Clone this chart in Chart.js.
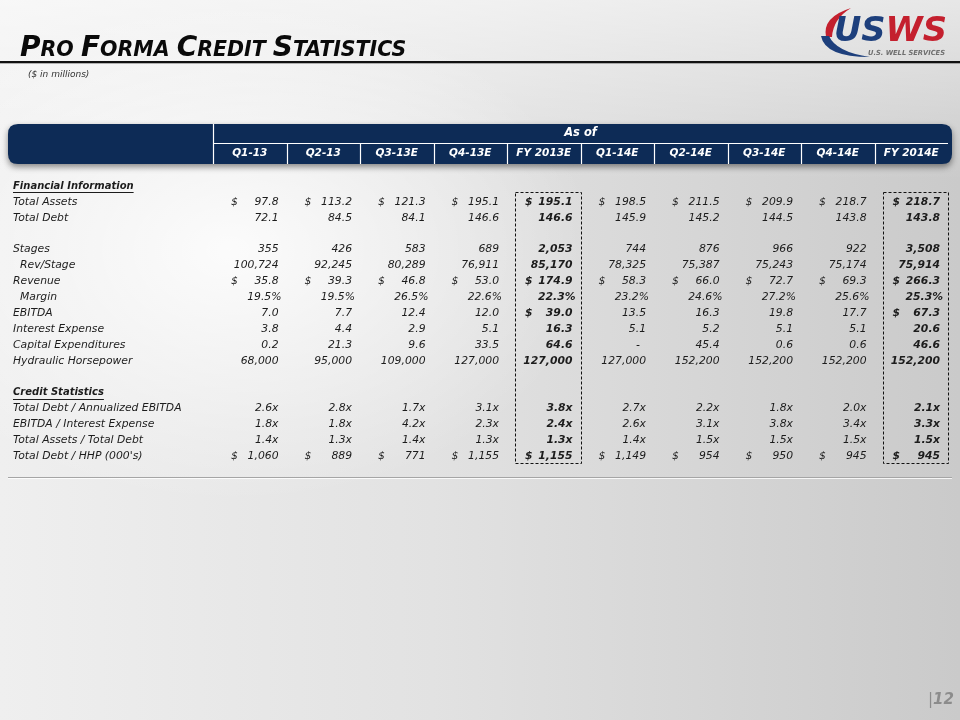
<!DOCTYPE html>
<html>
<head>
<meta charset="utf-8">
<script src="https://cdn.jsdelivr.net/npm/chart.js@4.4.1/dist/chart.umd.min.js"></script>
<style>
html,body{margin:0;padding:0;}
body{width:960px;height:720px;overflow:hidden;position:relative;
 background:
  radial-gradient(ellipse 520px 360px at 230px 250px, rgba(255,255,255,0.85), rgba(255,255,255,0) 70%),
  linear-gradient(180deg, rgba(255,255,255,0.55) 0%, rgba(255,255,255,0) 25%),
  linear-gradient(90deg, #efefef 0%, #e2e2e2 45%, #cacaca 100%);}
#c{position:absolute;left:0;top:0;}
#deco{position:absolute;left:0;top:0;}
</style>
</head>
<body>
<canvas id="c" width="960" height="720"></canvas>
<svg id="deco" width="960" height="720" xmlns="http://www.w3.org/2000/svg">
 <text x="20" y="56" font-family="DejaVu Sans" font-weight="bold" font-style="italic" fill="#0a0a0a"><tspan font-size="28">P</tspan><tspan font-size="20.5">RO </tspan><tspan font-size="28">F</tspan><tspan font-size="20.5">ORMA </tspan><tspan font-size="28">C</tspan><tspan font-size="20.5">REDIT </tspan><tspan font-size="28">S</tspan><tspan font-size="20.5">TATISTICS</tspan></text>
 <rect x="0" y="61" width="960" height="2.3" fill="#111"/>
 <text x="28" y="77" font-family="DejaVu Sans" font-style="italic" font-size="9" fill="#333">($ in millions)</text>
 <path d="M826 37 Q822 17 851 8 Q833 19 832 37 Z" fill="#c4202e"/>
 <path d="M821 36 Q825 57 870 57 Q836 52 829 36 Z" fill="#1d3f7c"/>
 <text x="834" y="41" font-family="DejaVu Sans" font-weight="bold" font-style="italic" font-size="34" textLength="113" lengthAdjust="spacingAndGlyphs"><tspan fill="#1d3f7c">US</tspan><tspan fill="#c4202e">WS</tspan></text>
 <text x="868" y="55" font-family="DejaVu Sans" font-weight="bold" font-style="italic" font-size="7" fill="#6f6f6f" textLength="77" lengthAdjust="spacingAndGlyphs">U.S. WELL SERVICES</text>
 <text x="928" y="704" font-family="DejaVu Sans" font-style="italic" font-size="15" fill="#8c8c8c"><tspan font-weight="normal">|</tspan><tspan font-weight="bold">12</tspan></text>
</svg>
<script>
// ---- data ----
const categories = ['Q1-13','Q2-13','Q3-13E','Q4-13E','FY 2013E','Q1-14E','Q2-14E','Q3-14E','Q4-14E','FY 2014E'];
const fyColumns = ['FY 2013E','FY 2014E'];
const headerTitle = 'As of';
const rowLabels = ['Financial Information','Total Assets','Total Debt','','Stages','Rev/Stage','Revenue','Margin','EBITDA','Interest Expense','Capital Expenditures','Hydraulic Horsepower',' ','Credit Statistics','Total Debt / Annualized EBITDA','EBITDA / Interest Expense','Total Assets / Total Debt',"Total Debt / HHP (000's)"];
const sectionLabels = ['Financial Information','Credit Statistics'];
const indentedLabels = ['Rev/Stage','Margin'];

const totalAssets      = [97.8, 113.2, 121.3, 195.1, 195.1, 198.5, 211.5, 209.9, 218.7, 218.7];
const totalDebt        = [72.1, 84.5, 84.1, 146.6, 146.6, 145.9, 145.2, 144.5, 143.8, 143.8];
const stages           = [355, 426, 583, 689, 2053, 744, 876, 966, 922, 3508];
const revPerStage      = [100724, 92245, 80289, 76911, 85170, 78325, 75387, 75243, 75174, 75914];
const revenue          = [35.8, 39.3, 46.8, 53.0, 174.9, 58.3, 66.0, 72.7, 69.3, 266.3];
const margin           = [19.5, 19.5, 26.5, 22.6, 22.3, 23.2, 24.6, 27.2, 25.6, 25.3];
const ebitda           = [7.0, 7.7, 12.4, 12.0, 39.0, 13.5, 16.3, 19.8, 17.7, 67.3];
const interestExpense  = [3.8, 4.4, 2.9, 5.1, 16.3, 5.1, 5.2, 5.1, 5.1, 20.6];
const capex            = [0.2, 21.3, 9.6, 33.5, 64.6, 0, 45.4, 0.6, 0.6, 46.6];
const horsepower       = [68000, 95000, 109000, 127000, 127000, 127000, 152200, 152200, 152200, 152200];
const debtToEbitda     = [2.6, 2.8, 1.7, 3.1, 3.8, 2.7, 2.2, 1.8, 2.0, 2.1];
const ebitdaToInterest = [1.8, 1.8, 4.2, 2.3, 2.4, 2.6, 3.1, 3.8, 3.4, 3.3];
const assetsToDebt     = [1.4, 1.3, 1.4, 1.3, 1.3, 1.4, 1.5, 1.5, 1.5, 1.5];
const debtPerHhp       = [1060, 889, 771, 1155, 1155, 1149, 954, 950, 945, 945];

// row label -> values, number format, dollar sign rule
const valueRows = [
 ['Total Assets', totalAssets, 'dec', 'all'],
 ['Total Debt', totalDebt, 'dec', 'none'],
 ['Stages', stages, 'int', 'none'],
 ['Rev/Stage', revPerStage, 'int', 'none'],
 ['Revenue', revenue, 'dec', 'all'],
 ['Margin', margin, 'pct', 'none'],
 ['EBITDA', ebitda, 'dec', 'fy'],
 ['Interest Expense', interestExpense, 'dec', 'none'],
 ['Capital Expenditures', capex, 'dec', 'none'],
 ['Hydraulic Horsepower', horsepower, 'int', 'none'],
 ['Total Debt / Annualized EBITDA', debtToEbitda, 'mult', 'none'],
 ['EBITDA / Interest Expense', ebitdaToInterest, 'mult', 'none'],
 ['Total Assets / Total Debt', assetsToDebt, 'mult', 'none'],
 ["Total Debt / HHP (000's)", debtPerHhp, 'int', 'all']
];

function fmt(v, kind){
  if (kind === 'dec') return v === 0 ? '-' : v.toLocaleString('en-US',{minimumFractionDigits:1,maximumFractionDigits:1});
  if (kind === 'int') return v.toLocaleString('en-US');
  if (kind === 'pct') return v.toFixed(1) + '%';
  if (kind === 'mult') return v.toFixed(1) + 'x';
  return String(v);
}

const FONT = "'DejaVu Sans'";

function roundRect(ctx, x, y, w, h, r){
  ctx.beginPath();
  ctx.moveTo(x + r, y);
  ctx.lineTo(x + w - r, y);
  ctx.quadraticCurveTo(x + w, y, x + w, y + r);
  ctx.lineTo(x + w, y + h - r);
  ctx.quadraticCurveTo(x + w, y + h, x + w - r, y + h);
  ctx.lineTo(x + r, y + h);
  ctx.quadraticCurveTo(x, y + h, x, y + h - r);
  ctx.lineTo(x, y + r);
  ctx.quadraticCurveTo(x, y, x + r, y);
  ctx.closePath();
}

const tablePlugin = {
  id: 'tablePlugin',
  beforeDatasetsDraw(chart){
    const ctx = chart.ctx;
    const xs = chart.scales.x, ys = chart.scales.y;
    const area = chart.chartArea;
    const half = (xs.getPixelForValue(1) - xs.getPixelForValue(0)) / 2;
    const colLeft = i => xs.getPixelForValue(i) - half;
    const colRight = i => xs.getPixelForValue(i) + half;
    const top = area.top;
    const hTop = top - 54, hBot = top - 14, hMid = top - 35;

    // header bar
    ctx.save();
    ctx.shadowColor = 'rgba(0,0,0,0.45)';
    ctx.shadowBlur = 6;
    ctx.shadowOffsetY = 3;
    roundRect(ctx, 8, hTop, area.right + 4 - 8, hBot - hTop, 10);
    ctx.fillStyle = '#0d2b56';
    ctx.fill();
    ctx.restore();

    ctx.save();
    ctx.strokeStyle = '#ffffff';
    ctx.lineWidth = 1.2;
    ctx.beginPath();
    ctx.moveTo(area.left + 0.5, hTop); ctx.lineTo(area.left + 0.5, hBot);
    ctx.moveTo(area.left, hMid + 0.5); ctx.lineTo(area.right, hMid + 0.5);
    for (let i = 1; i < categories.length; i++){
      const x = Math.round(colLeft(i)) + 0.5;
      ctx.moveTo(x, hMid); ctx.lineTo(x, hBot);
    }
    ctx.stroke();

    ctx.fillStyle = '#ffffff';
    ctx.textAlign = 'center';
    ctx.textBaseline = 'middle';
    ctx.font = 'bold italic 11.5px ' + FONT;
    ctx.fillText(headerTitle, (area.left + area.right) / 2, hTop + 9.5);
    ctx.font = 'bold italic 10.5px ' + FONT;
    categories.forEach((c, i) => {
      ctx.fillText(c, xs.getPixelForValue(i), hMid + 10.5);
    });
    ctx.restore();

    // dashed boxes around full-year columns
    ctx.save();
    ctx.strokeStyle = '#111';
    ctx.lineWidth = 1;
    ctx.setLineDash([3, 2]);
    const yTop = ys.getPixelForValue(1) - 10;
    const yBot = ys.getPixelForValue(rowLabels.length - 1) + 7;
    fyColumns.forEach(c => {
      const i = categories.indexOf(c);
      const l = Math.round(colLeft(i) + 8) + 0.5, r = Math.round(colRight(i)) + 0.5;
      ctx.strokeRect(l, Math.round(yTop) + 0.5, r - l, Math.round(yBot - yTop));
    });
    ctx.restore();

    // bottom rule
    ctx.save();
    const ly = Math.round(area.bottom + 13);
    ctx.fillStyle = '#a5a5a5';
    ctx.fillRect(8, ly, area.right + 4 - 8, 1);
    ctx.fillStyle = 'rgba(255,255,255,0.8)';
    ctx.fillRect(8, ly + 1, area.right + 4 - 8, 1);
    ctx.restore();
  },
  afterDatasetsDraw(chart){
    const ctx = chart.ctx;
    const xs = chart.scales.x, ys = chart.scales.y;
    const half = (xs.getPixelForValue(1) - xs.getPixelForValue(0)) / 2;
    ctx.save();
    ctx.textBaseline = 'middle';
    ctx.fillStyle = '#1c1c1c';

    // row labels
    rowLabels.forEach((lab, r) => {
      if (!lab.trim()) return;
      const y = ys.getPixelForValue(r);
      ctx.textAlign = 'left';
      if (sectionLabels.includes(lab)){
        ctx.font = 'bold italic 10px ' + FONT;
        ctx.fillText(lab, 13, y);
        const w = ctx.measureText(lab).width;
        ctx.fillRect(13, Math.round(y + 6), w, 1);
      } else {
        ctx.font = 'italic 10.8px ' + FONT;
        ctx.fillText(lab, indentedLabels.includes(lab) ? 20 : 13, y);
      }
    });

    // values
    chart.data.datasets.forEach((ds, d) => {
      const meta = chart.getDatasetMeta(d);
      meta.data.forEach((el, i) => {
        const raw = ds.data[i];
        const fy = fyColumns.includes(categories[i]);
        ctx.font = (fy ? 'bold italic ' : 'italic ') + '10.8px ' + FONT;
        const txt = fmt(raw.v, ds.kind);
        const right = el.x + half;
        ctx.textAlign = 'right';
        let pad = 8;
        if (ds.kind === 'pct') pad = 5;
        if (txt === '-') pad = 14;
        ctx.fillText(txt, right - pad, el.y);
        if (ds.dollar === 'all' || (ds.dollar === 'fy' && fy)){
          ctx.textAlign = 'left';
          ctx.fillText('$', el.x - half + 18, el.y);
        }
      });
    });
    ctx.restore();
  }
};

new Chart(document.getElementById('c').getContext('2d'), {
  type: 'line',
  data: {
    datasets: valueRows.map(([label, values, kind, dollar]) => ({
      label, kind, dollar,
      data: categories.map((c, i) => ({ x: c, y: label, v: values[i] })),
      showLine: false,
      pointRadius: 0,
      pointHoverRadius: 0
    }))
  },
  options: {
    responsive: false,
    animation: false,
    devicePixelRatio: 1,
    events: [],
    layout: { padding: { left: 213, right: 12, top: 178, bottom: 256 } },
    scales: {
      x: { type: 'category', labels: categories, offset: true, display: false },
      y: { type: 'category', labels: rowLabels, offset: true, display: false }
    },
    plugins: { legend: { display: false }, tooltip: { enabled: false } }
  },
  plugins: [tablePlugin]
});
</script>
</body>
</html>
